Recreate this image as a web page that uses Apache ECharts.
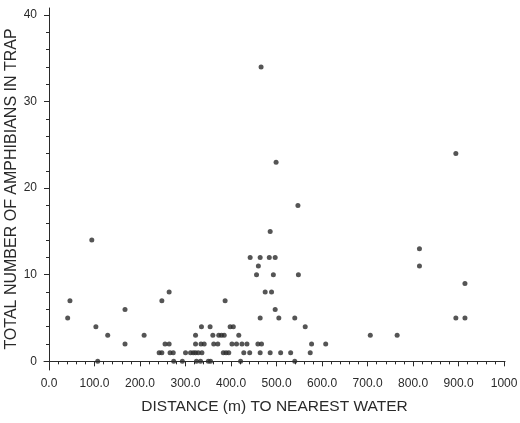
<!DOCTYPE html>
<html>
<head>
<meta charset="utf-8">
<script src="https://cdn.jsdelivr.net/npm/echarts@6/dist/echarts.min.js"></script>
<style>
  html, body { margin: 0; padding: 0; background: #fff; }
  #chart { width: 520px; height: 423px; }
</style>
</head>
<body>
<div id="chart"></div>
<script>
// distance (m) to nearest water, amphibians per trap
const distances = [
  107, 274, 293, 324, 333, 350, 355, 421, 540,
  242, 248, 266, 273, 300, 311, 317, 322, 328, 336, 383, 389, 395, 428, 441, 464, 486, 509, 531, 574,
  167, 255, 264, 322, 334, 341, 362, 371, 402, 412, 424, 435, 459, 467, 577, 608,
  129, 209, 322, 360, 373, 379, 385, 417, 706, 765,
  103, 335, 354, 398, 405, 563,
  41, 464, 505, 540, 894, 914,
  167, 497,
  46, 248, 387,
  264, 475, 489,
  914,
  456, 493, 548,
  460, 814,
  442, 464, 484, 497,
  814, 94, 486, 547, 499, 894, 466
]
const counts = [
  0, 0, 0, 0, 0, 0, 0, 0, 0,
  1, 1, 1, 1, 1, 1, 1, 1, 1, 1, 1, 1, 1, 1, 1, 1, 1, 1, 1, 1,
  2, 2, 2, 2, 2, 2, 2, 2, 2, 2, 2, 2, 2, 2, 2, 2,
  3, 3, 3, 3, 3, 3, 3, 3, 3, 3,
  4, 4, 4, 4, 4, 4,
  5, 5, 5, 5, 5, 5,
  6, 6,
  7, 7, 7,
  8, 8, 8,
  9,
  10, 10, 10,
  11, 11,
  12, 12, 12, 12,
  13, 14, 15, 18, 23, 24, 34
]
const xTicks = [0, 100, 200, 300, 400, 500, 600, 700, 800, 900, 1000]
const xMinor = [0, 20, 40, 60, 80, 100, 120, 140, 160, 180, 200, 220, 240, 260, 280, 300, 320, 340, 360, 380, 400, 420, 440, 460, 480, 500, 520, 540, 560, 580, 600, 620, 640, 660, 680, 700, 720, 740, 760, 780, 800, 820, 840, 860, 880, 900, 920, 940, 960, 980, 1000]
const yTicks = [0, 10, 20, 30, 40]
const yMinor = [0, 2, 4, 6, 8, 10, 12, 14, 16, 18, 20, 22, 24, 26, 28, 30, 32, 34, 36, 38, 40]

const points = distances.map((d, i) => [d, counts[i]])

const font = 'Liberation Sans'
const ink = '#2a2a2a'

const chart = echarts.init(document.getElementById('chart'))
chart.setOption({
  backgroundColor: '#fff',
  animation: false,
  grid: { left: 44, right: 15, top: 8, bottom: 53, outerBoundsMode: 'none', containLabel: false },
  xAxis: [{
    type: 'value',
    min: -11,
    max: 1002,
    name: 'DISTANCE (m) TO NEAREST WATER',
    nameLocation: 'middle',
    nameGap: 29,
    nameMoveOverlap: false,
    nameTextStyle: { fontFamily: font, fontSize: 15.5, color: ink },
    splitLine: { show: false },
    axisLine: { lineStyle: { color: ink, width: 1 } },
    axisTick: { customValues: xTicks, length: 5, lineStyle: { color: ink } },
    axisLabel: {
      customValues: xTicks,
      margin: 8,
      fontFamily: font, fontSize: 12, color: ink,
      formatter: v => v === 1000 ? '1000' : v.toFixed(1)
    }
  }, {
    type: 'value',
    position: 'bottom',
    min: -11,
    max: 1002,
    splitLine: { show: false },
    axisLine: { show: false },
    axisLabel: { show: false },
    axisTick: { customValues: xMinor, length: 3, lineStyle: { color: ink } }
  }],
  yAxis: [{
    type: 'value',
    min: -1,
    max: 40.8,
    name: 'TOTAL NUMBER OF AMPHIBIANS IN TRAP',
    nameLocation: 'middle',
    nameGap: 24,
    nameMoveOverlap: false,
    nameTextStyle: { fontFamily: font, fontSize: 16, color: ink },
    splitLine: { show: false },
    axisLine: { show: true, lineStyle: { color: ink, width: 1 } },
    axisTick: { show: true, customValues: yTicks, length: 5, lineStyle: { color: ink } },
    axisLabel: { customValues: yTicks, margin: 7, fontFamily: font, fontSize: 12, color: ink }
  }, {
    type: 'value',
    position: 'left',
    min: -1,
    max: 40.8,
    splitLine: { show: false },
    axisLine: { show: false },
    axisLabel: { show: false },
    axisTick: { show: true, customValues: yMinor, length: 3, lineStyle: { color: ink } }
  }],
  series: [{
    type: 'scatter',
    data: points,
    symbolSize: 5,
    itemStyle: { color: ink }
  }]
})
</script>
</body>
</html>
